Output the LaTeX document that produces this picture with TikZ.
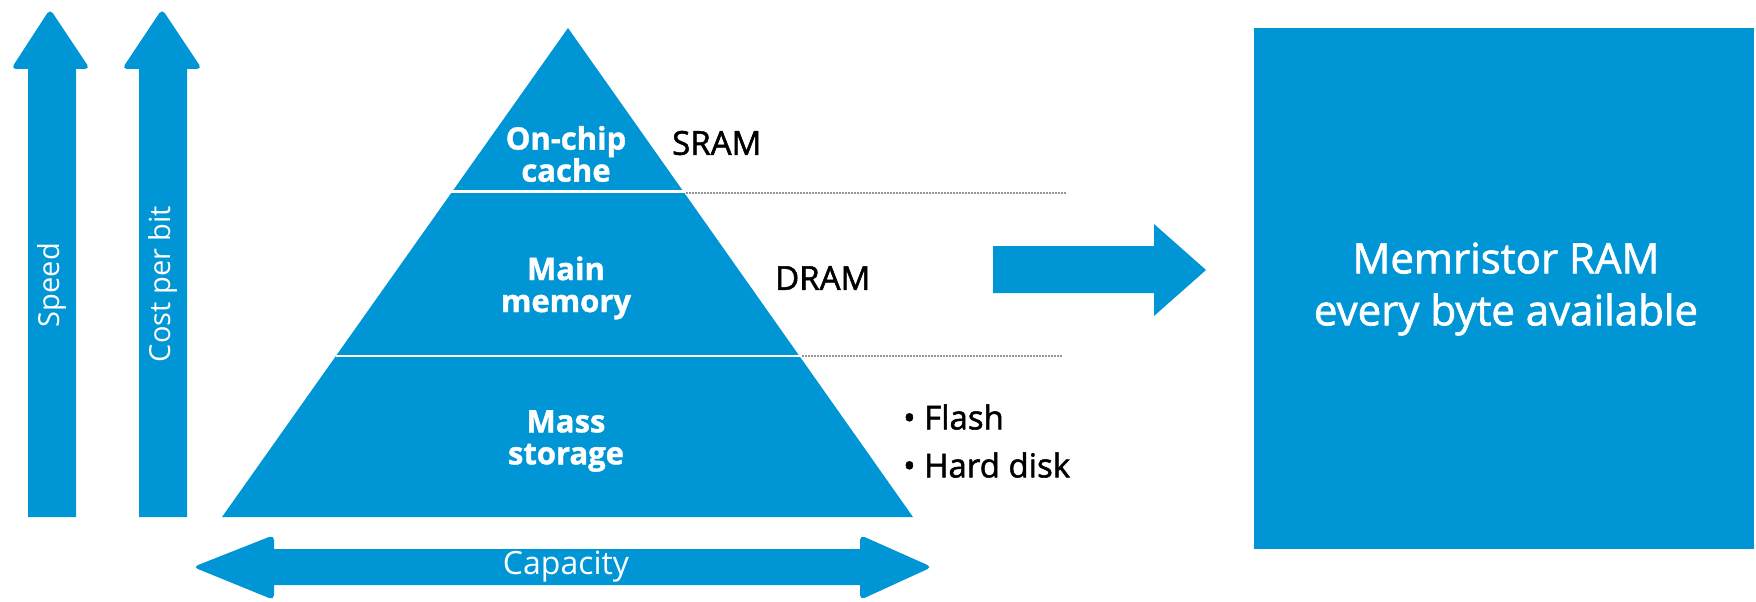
\documentclass[tikz,border=0pt]{standalone}
\usepackage{fontspec}
\setmainfont{Open Sans}
\newfontfamily\medfont[FakeBold=1.6]{Open Sans}
\newfontfamily\xbfont[FakeBold=1.2]{Open Sans}
\definecolor{hpblue}{RGB}{0,150,214}
\definecolor{dotgray}{RGB}{150,150,150}
\begin{document}
\begin{tikzpicture}[x=1pt,y=-1pt,
  shapefill/.style={fill=hpblue},
  whitetxt/.style={text=white,inner sep=0pt,align=center},
  layertxt/.style={whitetxt,font=\xbfont\bfseries\fontsize{31}{32}\selectfont},
  sidetxt/.style={text=black,inner sep=0pt,anchor=west,font=\medfont\fontsize{33}{35}\selectfont},
  dotline/.style={draw=dotgray,line width=1.3pt,dash pattern=on 1.6pt off 1.4pt},
  divider/.style={draw=white,line width=2.5pt}]
\useasboundingbox (0,0) rectangle (1756,602);
% vertical arrows
\fill[shapefill] (28,517) -- (28,69) [rounded corners=5] -- (11,69) -- (50,9) -- (90,69) [sharp corners] -- (76,69) -- (76,517) -- cycle;
\fill[shapefill] (139,517) -- (139,69) [rounded corners=5] -- (122,69) -- (162,9) -- (202,69) [sharp corners] -- (187,69) -- (187,517) -- cycle;
\node[whitetxt,rotate=90,font=\fontsize{29}{31}\selectfont] (speed) at (52,285) {Speed};
\node[whitetxt,rotate=90,font=\fontsize{29}{31}\selectfont] (cost) at (163,284) {Cost per bit};
% pyramid
\coordinate (apex) at (568,28);
\coordinate (bl) at (222,517);
\coordinate (br) at (913,517);
\fill[shapefill] (apex) -- (br) -- (bl) -- cycle;
\coordinate (d1l) at (450,191.5);
\coordinate (d1r) at (686,191.5);
\coordinate (d2l) at (336,356);
\coordinate (d2r) at (800,356);
\draw[divider] (d1l) -- (d1r);
\draw[divider] (d2l) -- (d2r);
\node[layertxt] (cache) at (566,154) {On-chip\\cache};
\node[layertxt] (main) at (566,288) {Main\\memory};
\node[layertxt] (mass) at (566,441) {Mass\\storage};
% labels
\node[sidetxt] (sram) at (672,143) {SRAM};
\node[sidetxt] (dram) at (775,278) {DRAM};
\node[sidetxt] (flash) at (903,417) {\textbullet\ Flash};
\node[sidetxt] (hdd) at (903,465) {\textbullet\ Hard disk};
% dotted lines
\coordinate (e1) at (1066,193);
\coordinate (e2) at (1062,356);
\draw[dotline] (d1r) ++(0,1.5) -- (e1);
\draw[dotline] (d2r) ++(2,0) -- (e2);
% right arrow
\fill[shapefill] (993,246) -- (1154,246) -- (1154,224) -- (1206,270) -- (1154,316) -- (1154,293) -- (993,293) -- cycle;
% memristor box
\fill[shapefill] (1254,28) rectangle (1754,549);
\node[whitetxt,font=\medfont\fontsize{42}{52}\selectfont] (memr) at (1506,289) {Memristor RAM\\every byte available};
% capacity arrow
\fill[shapefill] (274,549) -- (860,549) [rounded corners=5] -- (860,535) -- (932,567) -- (860,600) [sharp corners] -- (860,585) -- (274,585) [rounded corners=5] -- (274,600) -- (193,567) -- (274,535) [sharp corners] -- (274,549) -- cycle;
\node[whitetxt,font=\fontsize{32}{34}\selectfont] (cap) at (566,567) {Capacity};
\end{tikzpicture}
\end{document}
